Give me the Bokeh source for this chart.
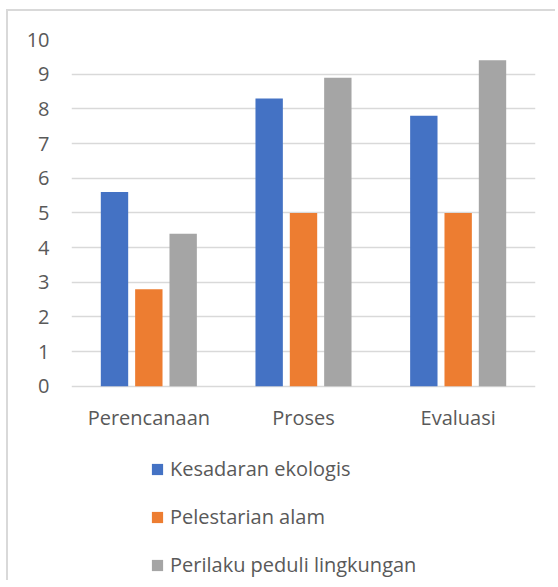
from bokeh.plotting import figure
from bokeh.models import ColumnDataSource, FactorRange, Range1d, Legend, LegendItem, FixedTicker
from bokeh.core.properties import value
from bokeh.transform import dodge
from bokeh.embed import file_html
from bokeh.resources import INLINE

categories = ["Perencanaan", "Proses", "Evaluasi"]
series_names = ["Kesadaran ekologis", "Pelestarian alam", "Perilaku peduli lingkungan"]
kesadaran = [5.6, 8.3, 7.8]
pelestarian = [2.8, 5.0, 5.0]
perilaku = [4.4, 8.9, 9.4]
colors = ["#4472C4", "#ED7D31", "#A5A5A5"]
y_ticks = [0, 1, 2, 3, 4, 5, 6, 7, 8, 9, 10]

FONT = "Open Sans"
TXT = "#595959"

source = ColumnDataSource(dict(cat=categories, s0=kesadaran, s1=pelestarian, s2=perilaku))
label_src = ColumnDataSource(dict(cat=categories, y=[0] * len(categories)))

# frame extends below zero so the legend can sit inside it
p = figure(x_range=FactorRange(*categories), y_range=Range1d(-5.6, 10),
           frame_width=464, frame_height=541, output_backend="svg", toolbar_location=None,
           min_border_left=63, min_border_right=20, min_border_top=28, min_border_bottom=0)
p.styles = {"border-left": "2px solid #d9d9d9", "border-top": "2px solid #d9d9d9",
            "margin-left": "6px", "margin-top": "9px"}
p.outline_line_color = None
p.background_fill_color = "white"
p.border_fill_color = "white"
p.xaxis.visible = False

renderers = []
offsets = [-0.222, 0.0, 0.222]
for i, (col, off) in enumerate(zip(["s0", "s1", "s2"], offsets)):
    r = p.vbar(x=dodge("cat", off, range=p.x_range), top=col, width=0.177, bottom=0,
               source=source, fill_color=colors[i], line_color=None)
    renderers.append(r)

# category labels under the zero line
p.text(x="cat", y="y", text="cat", source=label_src, text_align="center",
       text_baseline="middle", y_offset=31, text_font=value(FONT),
       text_font_size="20px", text_color=TXT)

p.yaxis.ticker = FixedTicker(ticks=y_ticks)
p.ygrid.grid_line_color = "#d9d9d9"
p.ygrid.grid_line_width = 1.5
p.xgrid.grid_line_color = None
p.yaxis.axis_line_color = None
p.yaxis.major_tick_line_color = None
p.yaxis.minor_tick_line_color = None
p.yaxis.major_tick_out = 0
p.yaxis.major_tick_in = 0
p.yaxis.major_label_standoff = 22
p.yaxis.major_label_text_font = FONT
p.yaxis.major_label_text_font_size = "20px"
p.yaxis.major_label_text_color = TXT

legend = Legend(items=[LegendItem(label=series_names[i], renderers=[renderers[i]]) for i in range(3)],
                orientation="vertical")
legend.border_line_color = None
legend.background_fill_alpha = 0
legend.glyph_width = 14
legend.glyph_height = 14
legend.label_height = 20
legend.spacing = 21
legend.label_standoff = 6
legend.padding = 0
legend.margin = 0
legend.label_text_font = FONT
legend.label_text_font_size = "20px"
legend.label_text_color = TXT
legend.location = (79, 2)
p.add_layout(legend)

open("out.html", "w").write(file_html(p, INLINE))
